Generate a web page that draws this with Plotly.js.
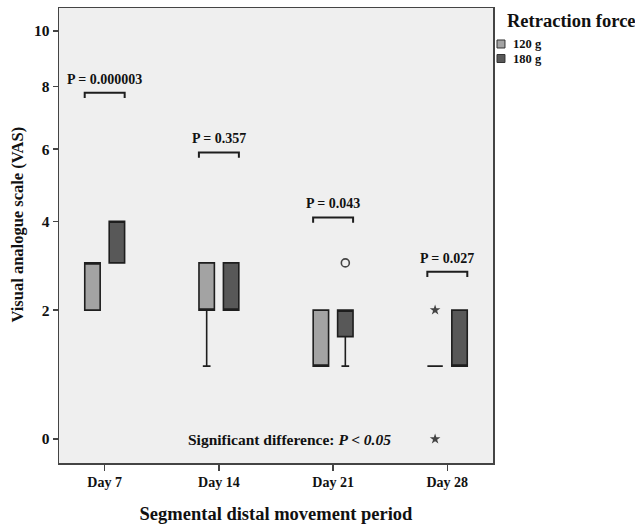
<!DOCTYPE html>
<html>
<head>
<meta charset="utf-8">
<script src="https://cdn.plot.ly/plotly-3.0.1.min.js"></script>
<style>html,body{margin:0;padding:0;background:#fff;}#chart{width:635px;height:524px;}</style>
</head>
<body>
<div id="chart"></div>
<script>
// ---- data (VAS values) ----
const categories = ['Day 7', 'Day 14', 'Day 21', 'Day 28'];
const groupNames = ['120 g', '180 g'];
const q1_120  = [2, 2, 1, 1];
const med_120 = [3, 2, 1, 1];
const q3_120  = [3, 3, 2, 1];
const lo_120  = [2, 1, 1, 1];
const hi_120  = [3, 3, 2, 1];
const q1_180  = [3, 2, 1.5, 1];
const med_180 = [4, 2, 2, 1];
const q3_180  = [4, 3, 2, 2];
const lo_180  = [3, 2, 1, 1];
const hi_180  = [4, 3, 2, 2];
// outliers: [category index, group index, value]
const outlierCat = [2];
const outlierGrp = [1];
const outlierVal = [3];
const extremeCat = [3, 3];
const extremeGrp = [0, 0];
const extremeVal = [2, 0];
const pLabels = ['P = 0.000003', 'P = 0.357', 'P = 0.043', 'P = 0.027'];
const bracketLevel = [7.8, 5.9, 4.1, 2.8];
const yTicks = [0, 2, 4, 6, 8, 10];

// ---- scale: axis drawn on sqrt(VAS + 1) ----
const f = v => Math.sqrt(v + 1);
const groupOffset = [-0.107, 0.107];
const boxWidth = 0.135;
const fills = ['#a3a3a3', '#585858'];
const serif = 'Liberation Serif, Times New Roman, serif';

const stats = [
  [q1_120, med_120, q3_120, lo_120, hi_120],
  [q1_180, med_180, q3_180, lo_180, hi_180]
];
const traces = stats.map((s, g) => ({
  type: 'box',
  name: groupNames[g],
  x: categories.map((c, i) => i + groupOffset[g]),
  q1: s[0].map(f), median: s[1].map(f), q3: s[2].map(f),
  lowerfence: s[3].map(f), upperfence: s[4].map(f),
  width: boxWidth,
  whiskerwidth: 0.5,
  fillcolor: fills[g],
  line: {color: '#1e1e1e', width: 1.6},
  boxpoints: false,
  hoverinfo: 'skip',
  showlegend: false
}));
traces.push({
  type: 'scatter', mode: 'markers', showlegend: false, hoverinfo: 'skip',
  x: outlierCat.map((c, k) => c + groupOffset[outlierGrp[k]]),
  y: outlierVal.map(f),
  marker: {symbol: 'circle-open', size: 8, color: '#444', line: {width: 1.6, color: '#444'}}
});
traces.push({
  type: 'scatter', mode: 'markers', showlegend: false, hoverinfo: 'skip',
  x: extremeCat.map((c, k) => c + groupOffset[extremeGrp[k]]),
  y: extremeVal.map(f),
  marker: {symbol: 'star', size: 8, color: '#444'}
});

const shapes = [];
const annotations = [];
const half = 0.175, drop = 0.03;
categories.forEach((c, i) => {
  const yb = f(bracketLevel[i]);
  shapes.push({
    type: 'path', xref: 'x', yref: 'y',
    path: `M ${i - half},${yb - drop} L ${i - half},${yb} L ${i + half},${yb} L ${i + half},${yb - drop}`,
    line: {color: '#1e1e1e', width: 2}
  });
  annotations.push({
    x: i, y: yb, xref: 'x', yref: 'y', text: '<b>' + pLabels[i] + '</b>', showarrow: false,
    yanchor: 'bottom', yshift: 4,
    font: {family: serif, size: 14, color: '#111'}
  });
});
annotations.push({
  x: 1.614, y: f(0), xref: 'x', yref: 'y', showarrow: false, yanchor: 'middle',
  text: '<b>Significant difference: <i>P &lt; 0.05</i></b>',
  font: {family: serif, size: 15.5, color: '#111'}
});
// y-axis title
annotations.push({
  x: -0.0956, y: 0.523, xref: 'paper', yref: 'paper', showarrow: false,
  textangle: -90, xanchor: 'center', yanchor: 'middle',
  text: '<b>Visual analogue scale (VAS)</b>',
  font: {family: serif, size: 16.5, color: '#111'}
});
// legend (drawn by hand to match compact layout)
annotations.push({
  x: 1.0276, y: 0.9714, xref: 'paper', yref: 'paper', showarrow: false,
  xanchor: 'left', yanchor: 'middle', text: '<b>Retraction force</b>',
  font: {family: serif, size: 18.5, color: '#111'}
});
const legY = [0.9209, 0.8890];
groupNames.forEach((n, g) => {
  shapes.push({
    type: 'rect', xref: 'paper', yref: 'paper',
    x0: 1.0092, x1: 1.0276, y0: legY[g] - 0.0088, y1: legY[g] + 0.0088,
    fillcolor: fills[g], line: {color: '#333', width: 1}
  });
  annotations.push({
    x: 1.0438, y: legY[g], xref: 'paper', yref: 'paper', showarrow: false,
    xanchor: 'left', yanchor: 'middle', text: '<b>' + n + '</b>', borderpad: 0,
    font: {family: serif, size: 12.5, color: '#111'}
  });
});

const layout = {
  width: 635, height: 524,
  margin: {l: 59, r: 142, t: 8, b: 61},
  paper_bgcolor: '#ffffff',
  plot_bgcolor: '#efefef',
  showlegend: false,
  xaxis: {
    range: [-0.4, 3.4],
    tickvals: categories.map((c, i) => i), ticktext: categories.map(c => '<b>' + c + '</b>'),
    showgrid: false, zeroline: false,
    showline: true, linecolor: '#444', linewidth: 1.5, mirror: true,
    ticks: 'outside', ticklen: 6, tickwidth: 1.5, tickcolor: '#444',
    tickfont: {family: serif, size: 14, color: '#111'},
    title: {text: '<b>Segmental distal movement period</b>', standoff: 18,
            font: {family: serif, size: 18.5, color: '#111'}}
  },
  yaxis: {
    range: [0.864, 3.447],
    tickvals: yTicks.map(f), ticktext: yTicks.map(v => '<b>' + v + '</b>'),
    showgrid: false, zeroline: false,
    showline: true, linecolor: '#444', linewidth: 1.5, mirror: true,
    ticks: 'outside', ticklen: 5, tickwidth: 1.5, tickcolor: '#444',
    tickfont: {family: serif, size: 15.5, color: '#111'}
  },
  shapes: shapes,
  annotations: annotations
};

Plotly.newPlot('chart', traces, layout, {staticPlot: true, displayModeBar: false});
</script>
</body>
</html>
